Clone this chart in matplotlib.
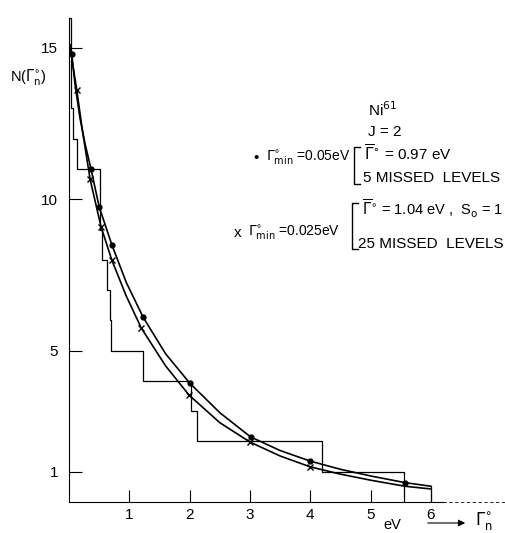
import matplotlib.pyplot as plt
from matplotlib.lines import Line2D

level_widths = [0.03, 0.03, 0.03, 0.06, 0.14, 0.51, 0.51, 0.54, 0.63, 0.68, 0.70,
                1.22, 2.03, 2.12, 4.20, 5.55]

# fitted curve for Gmin = 0.05 eV (upper)
fit1_x = [0.025, 0.045, 0.10, 0.18, 0.27, 0.365, 0.50, 0.71, 0.95, 1.23, 1.60, 2.00,
          2.50, 3.01, 3.50, 4.00, 4.50, 5.00, 5.57, 6.00]
fit1_y = [15.1, 14.8, 13.8, 12.7, 11.8, 11.0, 9.75, 8.5, 7.25, 6.1, 4.9, 3.93,
          2.95, 2.15, 1.7, 1.35, 1.08, 0.86, 0.64, 0.52]
dot_x = [0.045, 0.365, 0.50, 0.71, 1.23, 2.00, 3.01, 4.00, 5.57]
dot_y = [14.8, 11.0, 9.75, 8.5, 6.1, 3.93, 2.15, 1.35, 0.64]

# fitted curve for Gmin = 0.025 eV (lower)
fit2_x = [0.03, 0.05, 0.13, 0.22, 0.35, 0.53, 0.71, 0.95, 1.20, 1.60, 1.99, 2.50,
          3.00, 3.50, 4.00, 4.50, 5.00, 5.57, 6.00]
fit2_y = [15.0, 14.6, 13.6, 12.3, 10.66, 9.1, 7.99, 6.8, 5.74, 4.5, 3.53, 2.62,
          1.98, 1.52, 1.16, 0.92, 0.72, 0.52, 0.43]
cross_x = [0.13, 0.35, 0.53, 0.71, 1.20, 1.99, 3.00, 4.00]
cross_y = [13.6, 10.66, 9.1, 7.99, 5.74, 3.53, 1.98, 1.16]

xticks = [1, 2, 3, 4, 5, 6]
yticks = [1, 5, 10, 15]

W, H = 506, 533
plt.rcParams['font.family'] = ['Liberation Sans', 'DejaVu Sans']

fig = plt.figure(figsize=(W / 100, H / 100), dpi=100)
ax = fig.add_axes([69 / W, 31 / H, 437 / W, 490 / H])
ax.set_xlim(0, 437 / 60.33)
ax.set_ylim(0, 490 / 30.27)


def px(x, y):
    # figure pixel (from top-left) -> figure fraction
    return x / W, 1 - y / H


def bracket(x, y0, y1):
    pts = [px(x + 6, y0), px(x, y0), px(x, y1), px(x + 6, y1)]
    fig.add_artist(Line2D([p[0] for p in pts], [p[1] for p in pts], color='k', lw=1))


# staircase N(G) = number of levels wider than G
ws = sorted(level_widths)
step_x = [0] + ws
step_y = [len(ws) - i for i in range(len(ws) + 1)]
ax.step(step_x, step_y, where='post', color='k', lw=0.9)

ax.plot(fit1_x, fit1_y, color='k', lw=1.2)
ax.plot(fit2_x, fit2_y, color='k', lw=1.2)
ax.vlines(fit1_x[-1], 0, fit1_y[-1], color='k', lw=0.9)
ax.plot(dot_x, dot_y, 'o', color='k', ms=3.5)
ax.plot(cross_x, cross_y, 'x', color='k', ms=4.5, mew=1)

# axes
for s in ['top', 'right']:
    ax.spines[s].set_visible(False)
ax.spines['left'].set_bounds(0, 16)
ax.spines['bottom'].set_bounds(0, 6.2)
ax.spines['left'].set_linewidth(0.8)
ax.spines['bottom'].set_linewidth(0.8)
ax.plot([6.2, 7.3], [0, 0], color='k', lw=0.6, ls=(0, (4, 3)), clip_on=False)

ax.set_xticks(xticks)
ax.set_yticks(yticks)
ax.tick_params(axis='both', direction='in', length=9, width=0.8, labelsize=11)
ax.tick_params(axis='y', pad=8)
ax.tick_params(axis='x', pad=4)

# labels
fig.text(*px(10, 78), r'N($\Gamma_\mathrm{n}^{\circ}$)', fontsize=10.5, va='center')
fig.text(*px(368, 110), r'Ni$^{61}$', fontsize=11, va='center')
fig.text(*px(368, 132), 'J = 2', fontsize=11, va='center')

fig.text(*px(256, 158), '•', fontsize=11, va='center', ha='center')
fig.text(*px(266, 158), r'$\Gamma^{\circ}_{\mathrm{min}}$ =0.05eV', fontsize=10, va='center')
bracket(354, 147, 184)
fig.text(*px(364, 154), r'$\overline{\Gamma}^{\circ}$ = 0.97 eV', fontsize=11, va='center')
fig.text(*px(363, 178), '5 MISSED  LEVELS', fontsize=11, va='center')

fig.text(*px(238, 233), 'x', fontsize=11, va='center', ha='center')
fig.text(*px(248, 233), r'$\Gamma^{\circ}_{\mathrm{min}}$ =0.025eV', fontsize=10, va='center')
bracket(352, 203, 249)
fig.text(*px(362, 209), r'$\overline{\Gamma}^{\circ}$ = 1.04 eV ,  S$_\mathrm{o}$ = 1',
         fontsize=10.5, va='center')
fig.text(*px(358, 244), '25 MISSED  LEVELS', fontsize=11, va='center')

fig.text(*px(392, 525), 'eV', fontsize=10.5, va='center', ha='center')
ax.annotate('', xy=(468, H - 523), xytext=(425, H - 523), xycoords='figure pixels',
            arrowprops=dict(arrowstyle='-|>', lw=0.8, color='k'))
fig.text(*px(475, 521), r'$\Gamma_\mathrm{n}^{\circ}$', fontsize=12, va='center')

fig.savefig('out.png', dpi=100)
